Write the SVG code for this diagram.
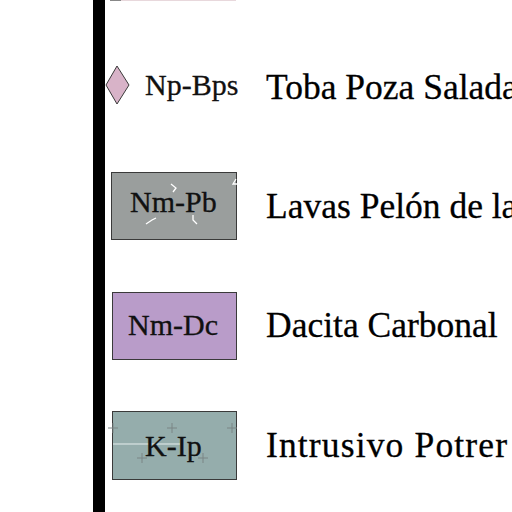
<svg xmlns="http://www.w3.org/2000/svg" width="512" height="512" viewBox="0 0 512 512">
<style>
.lbl{font-family:"Liberation Serif","Times New Roman",serif;font-size:30px;fill:#111;stroke:#111;stroke-width:0.3}
.name{font-family:"Liberation Serif","Times New Roman",serif;font-size:35.5px;fill:#000;stroke:#000;stroke-width:0.3}
.box{stroke:#3a3a3a;stroke-width:1}
.cross{stroke:#7a8585;stroke-width:1;fill:none}
.tick{stroke:#fff;stroke-width:1.3;fill:none}
</style>
<rect width="512" height="512" fill="#fff"/>
<rect x="93" y="0" width="12" height="512" fill="#000"/>
<line x1="110" y1="0.5" x2="236" y2="0.5" stroke="#e8d8dc" stroke-width="1"/>
<line x1="110" y1="0.5" x2="121" y2="0.5" stroke="#888" stroke-width="1"/>

<g id="np-bps">
<polygon points="117,66 129,85 117,104 106,85" fill="#d8b3c8" stroke="#3a3a3a" stroke-width="1"/>
<text class="lbl" x="145" y="95" font-size="29">Np-Bps</text>
<text class="name" x="266" y="99">Toba Poza Salada</text>
</g>

<g id="nm-pb">
<rect class="box" x="111.5" y="172.5" width="125" height="67" fill="#9a9e9d"/>
<text class="lbl" x="130" y="212">Nm-Pb</text>
<polyline class="tick" points="171,184 176,188 173,192"/>
<polyline class="tick" points="146,224 152,220 156,218"/>
<polyline class="tick" points="197,224 193,220 193,215"/>
<polyline class="tick" points="236,179 233,184 238,184"/>
<text class="name" x="266" y="218">Lavas Pelón de la</text>
</g>

<g id="nm-dc">
<rect class="box" x="112.5" y="292.5" width="124" height="67" fill="#b99cc9"/>
<text class="lbl" x="128" y="335" font-size="31">Nm-Dc</text>
<text class="name" x="266" y="337">Dacita Carbonal</text>
</g>

<g id="k-ip">
<rect class="box" x="112.5" y="411.5" width="124" height="68" fill="#95adac"/>
<line x1="113" y1="444" x2="180" y2="444" stroke="#e6eeee" stroke-width="1"/>
<path class="cross" d="M108,428h10M113,423v10M167,428h10M172,423v10M227,428h10M232,423v10M137,458h10M142,453v10M198,458h10M203,453v10"/>
<text class="lbl" x="145" y="456" font-size="33">K-Ip</text>
<text class="name" x="266" y="457" textLength="241" lengthAdjust="spacing">Intrusivo Potrer</text>
</g>
</svg>
